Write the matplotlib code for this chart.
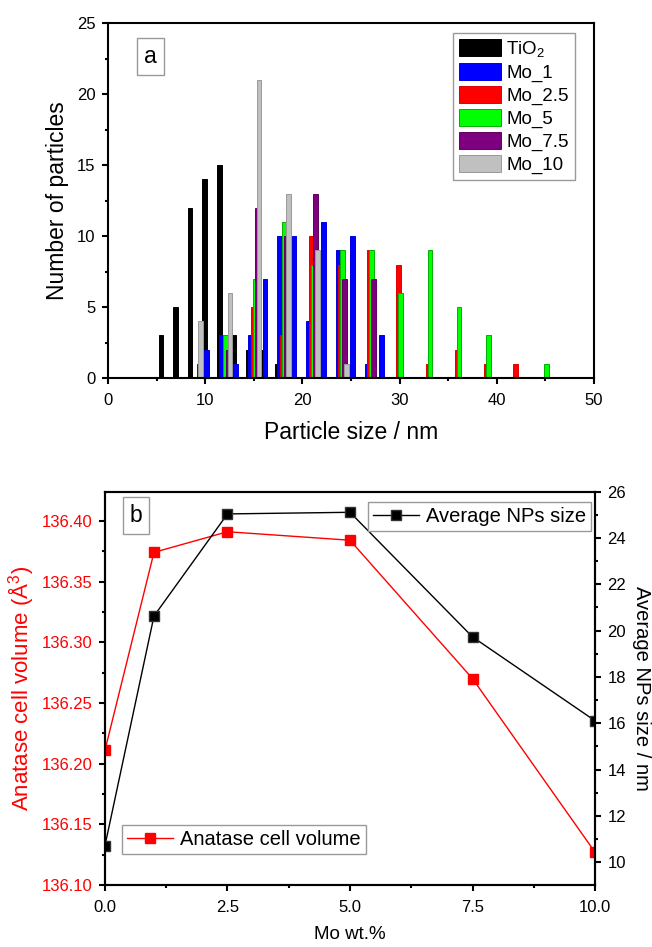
import numpy as np
import matplotlib
matplotlib.use("Agg")
import matplotlib.pyplot as plt
from matplotlib.ticker import MultipleLocator, FormatStrFormatter

plt.rcParams['font.family'] = ['Liberation Sans', 'DejaVu Sans']
plt.rcParams['mathtext.fontset'] = 'custom'
plt.rcParams['mathtext.rm'] = 'Liberation Sans'
plt.rcParams['mathtext.it'] = 'Liberation Sans:italic'

# Histogram data (bin centre / nm, count)
tio2_x = [5.45, 6.95, 8.45, 9.95, 11.45, 12.95, 14.45, 15.95, 17.45]
tio2_n = [3, 5, 12, 14, 15, 3, 2, 2, 1]
mo1_x = [10.15, 11.65, 13.15, 14.65, 16.15, 17.65, 19.15, 20.65, 22.15, 23.65, 25.15, 26.65, 28.15]
mo1_n = [2, 3, 1, 3, 7, 10, 10, 4, 11, 9, 10, 1, 3]
mo25_x = [14.92, 17.92, 20.92, 23.92, 26.92, 29.92, 32.92, 35.92, 38.92, 41.92]
mo25_n = [5, 3, 10, 8, 9, 8, 1, 2, 1, 1]
mo5_x = [12.12, 15.12, 18.12, 21.12, 24.12, 27.12, 30.12, 33.12, 36.12, 39.12, 45.12]
mo5_n = [3, 7, 11, 8, 9, 9, 6, 9, 5, 3, 1]
mo75_x = [9.35, 12.35, 15.35, 18.35, 21.35, 24.35, 27.35]
mo75_n = [1, 2, 12, 10, 13, 7, 7]
mo10_x = [9.55, 12.55, 15.55, 18.55, 21.55, 24.55]
mo10_n = [4, 6, 21, 13, 9, 1]

# Panel b data
mo_wt = [0, 1, 2.5, 5, 7.5, 10]
cell_vol = [136.211, 136.374, 136.391, 136.384, 136.270, 136.127]
np_size = [10.72, 20.63, 25.04, 25.11, 19.73, 16.11]

fig = plt.figure(figsize=(6.52, 9.47), dpi=100)

def style_axes(ax):
    for s in ax.spines.values():
        s.set_linewidth(1.5)
    ax.tick_params(which='major', direction='out', length=4, width=1.5, labelsize=12)
    ax.tick_params(which='minor', direction='out', length=2.5, width=1.5)
    ax.tick_params(axis='x', which='major', pad=7)
    ax.tick_params(axis='y', which='major', pad=5)

# ---- panel a ----
ax = fig.add_axes([0.1656, 0.6008, 0.7454, 0.3744])
series = [
    (tio2_x, tio2_n, 'black', 'black', r'TiO$_\mathregular{2}$'),
    (mo1_x, mo1_n, '#0000FF', '#0000E0', 'Mo_1'),
    (mo25_x, mo25_n, '#FF0000', '#E00000', 'Mo_2.5'),
    (mo5_x, mo5_n, '#00FF00', '#00B000', 'Mo_5'),
    (mo75_x, mo75_n, '#7F007F', '#600060', 'Mo_7.5'),
    (mo10_x, mo10_n, '#C0C0C0', '#999999', 'Mo_10'),
]
for xs, ns, fc, ec, lab in series:
    ax.bar(xs, ns, width=0.48, color=fc, edgecolor=ec, linewidth=0.7, label=lab)

ax.set_xlim(0, 50)
ax.set_ylim(0, 25)
ax.xaxis.set_major_locator(MultipleLocator(10))
ax.xaxis.set_minor_locator(MultipleLocator(5))
ax.yaxis.set_major_locator(MultipleLocator(5))
ax.yaxis.set_minor_locator(MultipleLocator(2.5))
style_axes(ax)
ax.set_xlabel('Particle size / nm', fontsize=16.5, labelpad=9)
ax.set_ylabel('Number of particles', fontsize=16.5, labelpad=6)
ax.text(0.087, 0.906, 'a', transform=ax.transAxes, fontsize=16.5, ha='center', va='center',
        bbox=dict(boxstyle='square,pad=0.3', fc='white', ec='#999999', lw=1))
leg = ax.legend(loc='upper right', bbox_to_anchor=(0.96, 0.972), borderaxespad=0,
                fontsize=13.5, fancybox=False, edgecolor='#999999', framealpha=1,
                handlelength=2.25, handleheight=1.05, labelspacing=0.2,
                handletextpad=0.3, borderpad=0.3)
leg.get_frame().set_linewidth(1)

# ---- panel b ----
bx = fig.add_axes([0.161, 0.0655, 0.7516, 0.4153])
bx2 = bx.twinx()
l1, = bx.plot(mo_wt, cell_vol, color='red', lw=1, marker='s', ms=7, mfc='red', mec='red',
              label='Anatase cell volume')
l2, = bx2.plot(mo_wt, np_size, color='black', lw=1, marker='s', ms=7, mfc='black', mec='#333333',
               label='Average NPs size')
bx.set_xlim(0, 10)
bx.set_ylim(136.10, 136.424)
bx2.set_ylim(9.02, 26)
bx.xaxis.set_major_locator(MultipleLocator(2.5))
bx.xaxis.set_minor_locator(MultipleLocator(1.25))
bx.xaxis.set_major_formatter(FormatStrFormatter('%.1f'))
bx.yaxis.set_major_locator(MultipleLocator(0.05))
bx.yaxis.set_minor_locator(MultipleLocator(0.025))
bx.yaxis.set_major_formatter(FormatStrFormatter('%.2f'))
bx2.yaxis.set_major_locator(MultipleLocator(2))
bx2.yaxis.set_minor_locator(MultipleLocator(1))
style_axes(bx)
style_axes(bx2)
bx.tick_params(axis='y', labelcolor='red')
bx.set_xlabel('Mo wt.%', fontsize=13.5, labelpad=8)
bx.set_ylabel('Anatase cell volume (Å$^\\mathregular{3}$)', fontsize=16, color='red', labelpad=4)
bx2.set_ylabel('Average NPs size / nm', fontsize=14.5, rotation=270, va='bottom', labelpad=4)
bx.text(0.063, 0.939, 'b', transform=bx.transAxes, fontsize=16.5, ha='center', va='center',
        bbox=dict(boxstyle='square,pad=0.3', fc='white', ec='#999999', lw=1))
lg1 = bx.legend(handles=[l1], loc='lower left', bbox_to_anchor=(0.0347, 0.078), borderaxespad=0,
                fontsize=14.5, fancybox=False, edgecolor='#999999', framealpha=1,
                handlelength=2.3, handletextpad=0.35, borderpad=0.25)
lg2 = bx2.legend(handles=[l2], loc='upper right', bbox_to_anchor=(0.992, 0.9746), borderaxespad=0,
                 fontsize=14.5, fancybox=False, edgecolor='#999999', framealpha=1,
                 handlelength=2.3, handletextpad=0.35, borderpad=0.25)
lg1.get_frame().set_linewidth(1)
lg2.get_frame().set_linewidth(1)

fig.savefig('out.png', dpi=100)
